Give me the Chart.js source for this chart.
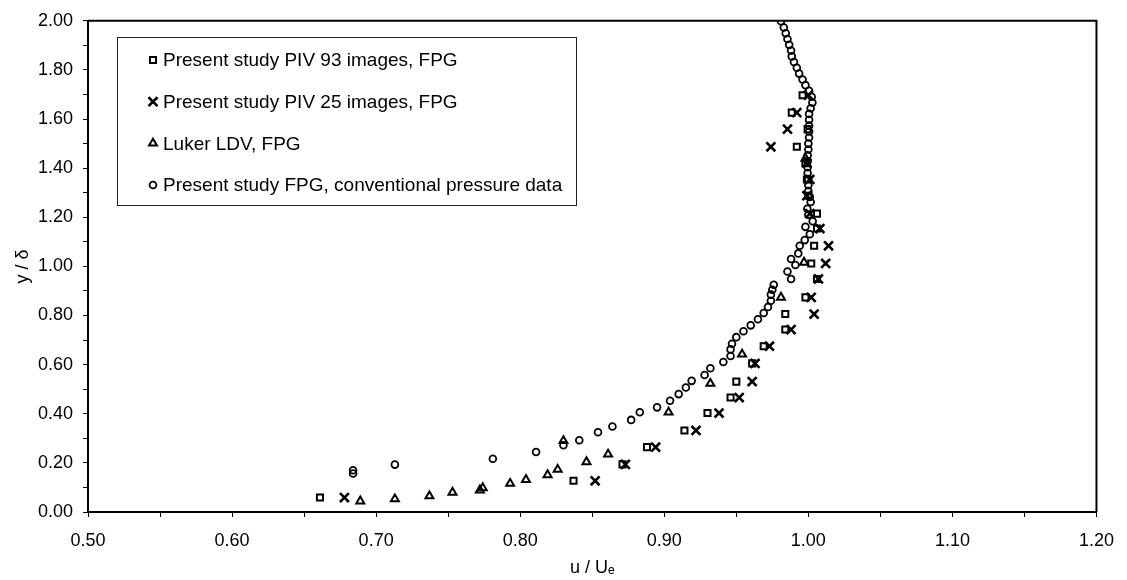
<!DOCTYPE html>
<html>
<head>
<meta charset="utf-8">
<script src="https://cdn.jsdelivr.net/npm/chart.js@4.4.0/dist/chart.umd.min.js"></script>
<style>
  body { margin: 0; background: #fff; }
  #wrap { width: 1127px; height: 580px; }
</style>
</head>
<body>
<div id="wrap"><canvas id="chart" width="1127" height="580"></canvas></div>
<script>
// Present study PIV, 93 images
const piv93U = [0.661, 0.837, 0.871, 0.888, 0.914, 0.930, 0.946, 0.950, 0.961, 0.969, 0.984, 0.984, 0.998, 1.006, 1.002, 1.004, 1.006, 1.006, 1.000, 0.999, 0.998, 0.992, 0.9995, 0.9885, 0.996];
const piv93Y = [0.059, 0.127, 0.194, 0.264, 0.332, 0.403, 0.466, 0.531, 0.605, 0.675, 0.743, 0.806, 0.874, 0.949, 1.012, 1.084, 1.154, 1.215, 1.288, 1.354, 1.420, 1.487, 1.559, 1.626, 1.697];

// Present study PIV, 25 images
const piv25U = [0.678, 0.852, 0.873, 0.894, 0.922, 0.938, 0.952, 0.961, 0.963, 0.973, 0.988, 1.004, 1.002, 1.007, 1.012, 1.014, 1.008, 1.001, 0.999, 1.001, 0.999, 0.974, 0.9855, 0.992, 1.000];
const piv25Y = [0.059, 0.127, 0.194, 0.264, 0.332, 0.403, 0.466, 0.531, 0.605, 0.675, 0.743, 0.806, 0.874, 0.949, 1.012, 1.084, 1.154, 1.215, 1.288, 1.354, 1.420, 1.487, 1.559, 1.626, 1.697];

// Luker LDV
const lukerU = [0.689, 0.713, 0.737, 0.753, 0.772, 0.774, 0.793, 0.804, 0.819, 0.826, 0.846, 0.861, 0.830, 0.903, 0.932, 0.954, 0.981, 0.997, 0.998];
const lukerY = [0.044, 0.053, 0.065, 0.080, 0.089, 0.098, 0.116, 0.132, 0.151, 0.173, 0.204, 0.235, 0.290, 0.406, 0.523, 0.642, 0.874, 1.016, 1.440];

// Present study, conventional pressure data
const pressU = [0.684, 0.684, 0.713, 0.781, 0.811, 0.830, 0.841, 0.854, 0.864, 0.877, 0.883, 0.895, 0.904, 0.910, 0.915, 0.919, 0.928, 0.932, 0.941, 0.946, 0.946, 0.947, 0.950, 0.955,
  0.960, 0.965, 0.969, 0.972, 0.974, 0.974, 0.975, 0.976, 0.988, 0.9855, 0.991, 0.988, 0.993, 0.994, 0.9975, 1.001, 0.998, 1.003, 1.000, 0.9993, 1.0016,
  1.001, 1.000, 1.000, 1.000, 0.9995, 0.9995, 0.9995, 0.9995, 1.000, 1.000, 1.0005, 1.0005, 1.0005, 1.0005, 1.0005, 1.0016, 1.0028, 1.0023, 1.0005,
  0.998, 0.996, 0.9936, 0.992, 0.990, 0.9885, 0.988, 0.9867, 0.9855, 0.9843, 0.983, 0.981];
const pressY = [0.157, 0.170, 0.193, 0.217, 0.244, 0.272, 0.292, 0.325, 0.348, 0.375, 0.406, 0.426, 0.453, 0.480, 0.507, 0.534, 0.558, 0.585, 0.611, 0.635, 0.662, 0.685, 0.712, 0.736,
  0.760, 0.785, 0.810, 0.835, 0.860, 0.885, 0.905, 0.925, 0.949, 0.979, 1.006, 1.030, 1.053, 1.084, 1.107, 1.131, 1.161, 1.184, 1.210, 1.235, 1.262,
  1.283, 1.307, 1.331, 1.356, 1.380, 1.404, 1.428, 1.452, 1.476, 1.500, 1.525, 1.549, 1.573, 1.597, 1.621, 1.644, 1.667, 1.691, 1.715,
  1.738, 1.761, 1.785, 1.809, 1.832, 1.855, 1.879, 1.902, 1.926, 1.949, 1.973, 1.998];

const seriesNames = [
    "Present study PIV 93 images, FPG",
    "Present study PIV 25 images, FPG",
    "Luker LDV, FPG",
    "Present study FPG, conventional pressure data"
];

const FONT = '"Liberation Sans", Arial, sans-serif';

// Pair the u and y arrays into points
function toPoints(us, ys) {
    return us.map((u, i) => ({ x: u, y: ys[i] }));
}

// Border on top and right of plot area
const frame = {
    id: 'frame',
    afterDraw(chart) {
        const { ctx, chartArea: a } = chart;
        ctx.save();
        ctx.strokeStyle = '#000';
        ctx.lineWidth = 2;
        ctx.beginPath();
        ctx.moveTo(a.left, a.top);
        ctx.lineTo(a.right, a.top);
        ctx.lineTo(a.right, a.bottom);
        ctx.stroke();
        ctx.restore();
    }
};

// Boxed legend inside the plot, top left
const boxLegend = {
    id: 'boxLegend',
    afterDraw(chart) {
        const ctx = chart.ctx;
        ctx.save();
        ctx.fillStyle = '#fff';
        ctx.fillRect(117.5, 37.5, 459, 168);
        ctx.strokeStyle = '#222';
        ctx.lineWidth = 1;
        ctx.strokeRect(117.5, 37.5, 459, 168);
        const rows = [60, 101.7, 143.3, 185];
        chart.data.datasets.forEach((ds, i) => {
            const opts = {
                pointStyle: ds.pointStyle,
                radius: ds.pointRadius,
                borderWidth: ds.borderWidth,
                rotation: 0
            };
            ctx.strokeStyle = '#000';
            ctx.fillStyle = 'rgba(0,0,0,0)';
            ctx.lineWidth = ds.borderWidth;
            Chart.helpers.drawPoint(ctx, opts, 153, rows[i]);
            ctx.fillStyle = '#000';
            ctx.font = '19px ' + FONT;
            ctx.textBaseline = 'middle';
            ctx.textAlign = 'left';
            ctx.fillText(ds.label, 163, rows[i] + 1);
        });
        ctx.restore();
    }
};

const styles = [
    { pointStyle: 'rect', pointRadius: 4.3, borderWidth: 2 },
    { pointStyle: 'crossRot', pointRadius: 6.3, borderWidth: 2.6 },
    { pointStyle: 'triangle', pointRadius: 4.6, borderWidth: 2 },
    { pointStyle: 'circle', pointRadius: 3.4, borderWidth: 1.8 }
];
const pointSets = [
    toPoints(piv93U, piv93Y),
    toPoints(piv25U, piv25Y),
    toPoints(lukerU, lukerY),
    toPoints(pressU, pressY)
];

const chart = new Chart(document.getElementById('chart'), {
    type: 'scatter',
    plugins: [frame, boxLegend],
    data: {
        datasets: pointSets.map((pts, i) => ({
            label: seriesNames[i],
            data: pts,
            pointStyle: styles[i].pointStyle,
            pointRadius: styles[i].pointRadius,
            pointHoverRadius: styles[i].pointRadius,
            borderWidth: styles[i].borderWidth,
            borderColor: '#000',
            backgroundColor: 'rgba(0,0,0,0)'
        }))
    },
    options: {
        responsive: false,
        animation: false,
        devicePixelRatio: 1,
        layout: { padding: { top: 17, right: 27, left: 0, bottom: 0 } },
        plugins: {
            legend: { display: false },
            tooltip: { enabled: false }
        },
        scales: {
            x: {
                type: 'linear',
                min: 0.5,
                max: 1.2,
                afterFit: (scale) => { scale.height = 68; },
                border: { color: '#000', width: 2 },
                grid: { drawOnChartArea: false, tickLength: 5, color: '#000' },
                ticks: {
                    stepSize: 0.05,
                    color: '#000',
                    padding: 13,
                    maxRotation: 0,
                    autoSkip: false,
                    font: { family: FONT, size: 18 },
                    callback: (v, i) => (i % 2 === 0 ? v.toFixed(2) : '')
                },
                title: {
                    display: true,
                    text: 'u / Uₑ',
                    color: '#000',
                    font: { family: FONT, size: 18 },
                    padding: { top: 0, bottom: 1 }
                }
            },
            y: {
                type: 'linear',
                min: 0,
                max: 2,
                afterFit: (scale) => { scale.width = 88; },
                border: { color: '#000', width: 2 },
                grid: { drawOnChartArea: false, tickLength: 5, color: '#000' },
                ticks: {
                    stepSize: 0.1,
                    color: '#000',
                    padding: 10,
                    autoSkip: false,
                    font: { family: FONT, size: 18 },
                    callback: (v, i) => (i % 2 === 0 ? v.toFixed(2) : '')
                },
                title: {
                    display: true,
                    text: 'y / δ',
                    color: '#000',
                    font: { family: FONT, size: 18 },
                    padding: { top: 12, bottom: 0 }
                }
            }
        }
    }
});
</script>
</body>
</html>
